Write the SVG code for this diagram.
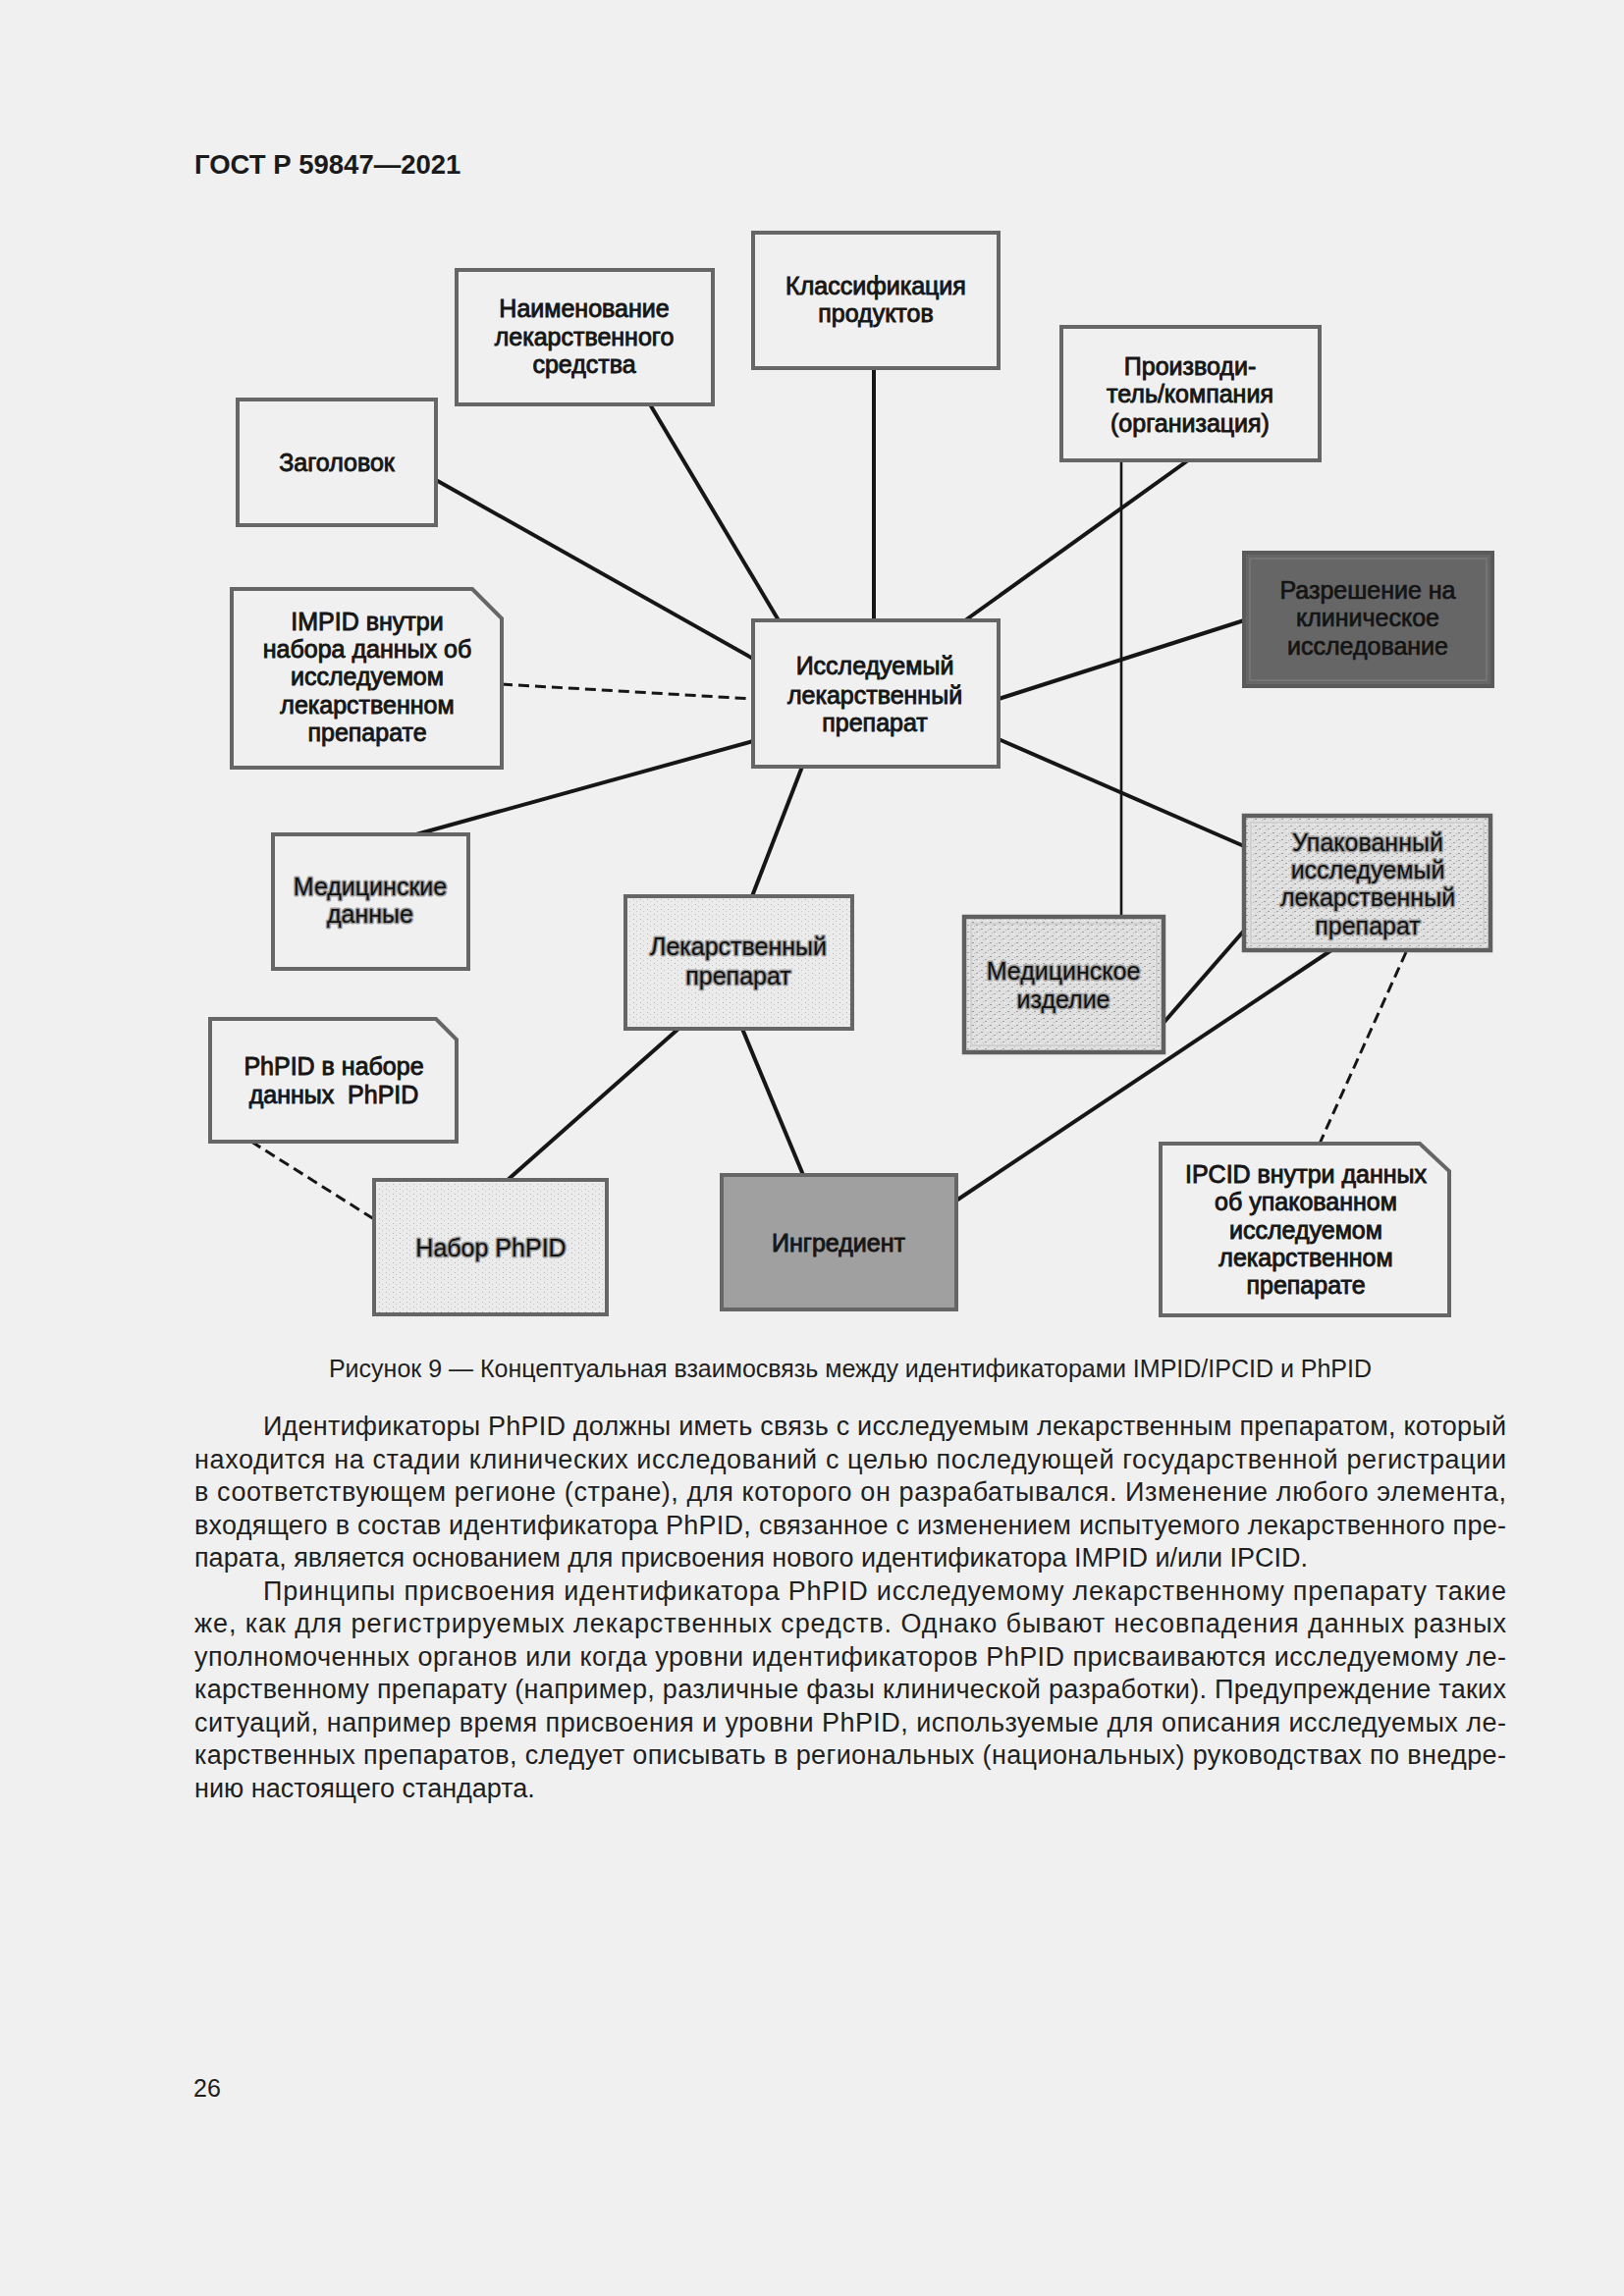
<svg xmlns="http://www.w3.org/2000/svg" width="1654" height="2339" viewBox="0 0 1654 2339">
<style>
  .bg { fill: #f0f0f0; }
  .box { fill: none; stroke: #666666; stroke-width: 4; }
  .t { font-family: "Liberation Sans", Arial, sans-serif; font-size: 25px; fill: #161616; stroke: #161616; stroke-width: 0.9; text-anchor: middle; }
  .halo { font-family: "Liberation Sans", Arial, sans-serif; font-size: 25px; fill: #111111; stroke: #9a9a9a; stroke-width: 3; paint-order: stroke; stroke-linejoin: round; text-anchor: middle; }
  .halo2 { font-family: "Liberation Sans", Arial, sans-serif; font-size: 25px; fill: #141414; stroke: #141414; stroke-width: 0.7; text-anchor: middle; }
  .conn { stroke: #161616; stroke-width: 4; fill: none; }
  .thin { stroke: #161616; stroke-width: 2.6; fill: none; }
  .dash { stroke: #161616; stroke-width: 3; fill: none; stroke-dasharray: 11 6; }
  .hdr { font-family: "Liberation Sans", Arial, sans-serif; font-size: 27.5px; font-weight: bold; fill: #1a1a1a; }
  .cap { font-family: "Liberation Sans", Arial, sans-serif; font-size: 25px; fill: #1f1f1f; text-anchor: middle; }
  .body { font-family: "Liberation Sans", Arial, sans-serif; font-size: 27px; fill: #1f1f1f; }
</style>
<defs>
  <pattern id="lightTex" width="7" height="5" patternUnits="userSpaceOnUse">
    <rect width="7" height="5" fill="#ebebeb"/>
    <rect x="1" y="1" width="1" height="1" fill="#b4b4b4"/>
    <rect x="4" y="3" width="1" height="1" fill="#c4c4c4"/>
  </pattern>
  <pattern id="heavyTex" width="9" height="7" patternUnits="userSpaceOnUse">
    <rect width="9" height="7" fill="#e0e0e0"/>
    <rect x="0" y="1" width="2" height="1" fill="#999999"/>
    <rect x="4" y="4" width="2" height="1" fill="#a3a3a3"/>
    <rect x="7" y="2" width="1" height="1" fill="#b3b3b3"/>
    <rect x="2" y="5" width="1" height="1" fill="#bcbcbc"/>
    <rect x="6" y="6" width="1" height="1" fill="#f8f8f8"/>
  </pattern>
</defs>
<rect class="bg" x="0" y="0" width="1654" height="2339"/>

<text class="hdr" x="198" y="177">ГОСТ Р 59847—2021</text>

<g id="connectors">
  <line class="conn" x1="444" y1="489" x2="767" y2="671"/>
  <line class="conn" x1="662" y1="412" x2="793" y2="632"/>
  <line class="conn" x1="890" y1="375" x2="890" y2="632"/>
  <line class="conn" x1="1210" y1="469" x2="983" y2="632"/>
  <line class="conn" x1="1017" y1="712" x2="1267" y2="632"/>
  <line class="conn" x1="1017" y1="753" x2="1267" y2="862"/>
  <line class="conn" x1="767" y1="755" x2="424" y2="850"/>
  <line class="conn" x1="817" y1="781" x2="766" y2="913"/>
  <line class="thin" x1="1142" y1="469" x2="1142" y2="934"/>
  <line class="conn" x1="1267" y1="948" x2="1185" y2="1042"/>
  <line class="conn" x1="1356" y1="968" x2="974" y2="1223"/>
  <line class="conn" x1="691" y1="1048" x2="517" y2="1202"/>
  <line class="conn" x1="756" y1="1048" x2="818" y2="1197"/>
  <line class="dash" x1="511" y1="697" x2="767" y2="712"/>
  <line class="dash" x1="256" y1="1163" x2="381" y2="1242"/>
  <line class="dash" x1="1432" y1="970" x2="1344" y2="1165"/>
</g>

<g id="n-zagolovok">
  <rect class="box" x="242" y="407" width="202" height="128"/>
  <text class="t" x="343" y="480">Заголовок</text>
</g>

<g id="n-naimenovanie">
  <rect class="box" x="465" y="275" width="261" height="137"/>
  <text class="t" x="595" y="323">Наименование</text>
  <text class="t" x="595" y="352">лекарственного</text>
  <text class="t" x="595" y="380">средства</text>
</g>

<g id="n-klassifikacia">
  <rect class="box" x="767" y="237" width="250" height="138"/>
  <text class="t" x="892" y="300">Классификация</text>
  <text class="t" x="892" y="328">продуктов</text>
</g>

<g id="n-proizvoditel">
  <rect class="box" x="1081" y="333" width="263" height="136"/>
  <text class="t" x="1212" y="382">Производи-</text>
  <text class="t" x="1212" y="410">тель/компания</text>
  <text class="t" x="1212" y="440">(организация)</text>
</g>

<g id="n-impid-note">
  <path class="box" d="M236,600 H481 L511,630 V782 H236 Z"/>
  <text class="t" x="374" y="642">IMPID внутри</text>
  <text class="t" x="374" y="670">набора данных об</text>
  <text class="t" x="374" y="698">исследуемом</text>
  <text class="t" x="374" y="727">лекарственном</text>
  <text class="t" x="374" y="755">препарате</text>
</g>

<g id="n-central">
  <rect class="box" x="767" y="632" width="250" height="149"/>
  <text class="t" x="891" y="687">Исследуемый</text>
  <text class="t" x="891" y="717">лекарственный</text>
  <text class="t" x="891" y="745">препарат</text>
</g>

<g id="n-razreshenie">
  <rect x="1267" y="563" width="253" height="136" fill="#666666" stroke="#5a5a5a" stroke-width="4"/>
  <rect x="1273" y="569" width="241" height="124" fill="none" stroke="#7a7a7a" stroke-width="1.5"/>
  <text class="halo2" x="1393" y="610">Разрешение на</text>
  <text class="halo2" x="1393" y="638">клиническое</text>
  <text class="halo2" x="1393" y="667">исследование</text>
</g>

<g id="n-med-dannye">
  <rect class="box" x="278" y="850" width="199" height="137"/>
  <text class="halo" x="377" y="912">Медицинские</text>
  <text class="halo" x="377" y="940">данные</text>
</g>

<g id="n-lek-preparat">
  <rect x="637" y="913" width="231" height="135" fill="url(#lightTex)" stroke="#666666" stroke-width="4"/>
  <text class="halo" x="752" y="973">Лекарственный</text>
  <text class="halo" x="752" y="1003">препарат</text>
</g>

<g id="n-med-izdelie">
  <rect x="982" y="934" width="203" height="138" fill="url(#heavyTex)" stroke="#5f5f5f" stroke-width="4.5"/>
  <rect x="989" y="941" width="189" height="124" fill="none" stroke="#d0d0d0" stroke-width="2"/>
  <text class="halo" x="1083" y="998">Медицинское</text>
  <text class="halo" x="1083" y="1027">изделие</text>
</g>

<g id="n-upakovanny">
  <rect x="1267" y="831" width="251" height="137" fill="url(#heavyTex)" stroke="#5f5f5f" stroke-width="4.5"/>
  <rect x="1274" y="838" width="237" height="123" fill="none" stroke="#d0d0d0" stroke-width="2"/>
  <text class="halo" x="1393" y="867">Упакованный</text>
  <text class="halo" x="1393" y="895">исследуемый</text>
  <text class="halo" x="1393" y="923">лекарственный</text>
  <text class="halo" x="1393" y="952">препарат</text>
</g>

<g id="n-phpid-note">
  <path class="box" d="M214,1038 H444 L465,1059 V1163 H214 Z"/>
  <text class="t" x="340" y="1095">PhPID в наборе</text>
  <text class="t" x="340" y="1124" xml:space="preserve">данных  PhPID</text>
</g>

<g id="n-nabor-phpid">
  <rect x="381" y="1202" width="237" height="137" fill="url(#lightTex)" stroke="#666666" stroke-width="4"/>
  <text class="halo" x="500" y="1280">Набор PhPID</text>
</g>

<g id="n-ingredient">
  <rect x="735" y="1197" width="239" height="137" fill="#a0a0a0" stroke="#666666" stroke-width="4"/>
  <text class="t" x="854" y="1275">Ингредиент</text>
</g>

<g id="n-ipcid-note">
  <path class="box" d="M1182,1165 H1446 L1476,1193 V1340 H1182 Z"/>
  <text class="t" x="1330" y="1205">IPCID внутри данных</text>
  <text class="t" x="1330" y="1233">об упакованном</text>
  <text class="t" x="1330" y="1262">исследуемом</text>
  <text class="t" x="1330" y="1290">лекарственном</text>
  <text class="t" x="1330" y="1318">препарате</text>
</g>

<text class="cap" x="866" y="1403">Рисунок 9 — Концептуальная взаимосвязь между идентификаторами IMPID/IPCID и PhPID</text>

<g id="body-text">
  <text class="body" x="268" y="1462" textLength="1266" lengthAdjust="spacing">Идентификаторы PhPID должны иметь связь с исследуемым лекарственным препаратом, который</text>
  <text class="body" x="198" y="1495.5" textLength="1336" lengthAdjust="spacing">находится на стадии клинических исследований с целью последующей государственной регистрации</text>
  <text class="body" x="198" y="1529" textLength="1336" lengthAdjust="spacing">в соответствующем регионе (стране), для которого он разрабатывался. Изменение любого элемента,</text>
  <text class="body" x="198" y="1562.5" textLength="1336" lengthAdjust="spacing">входящего в состав идентификатора PhPID, связанное с изменением испытуемого лекарственного пре-</text>
  <text class="body" x="198" y="1596">парата, является основанием для присвоения нового идентификатора IMPID и/или IPCID.</text>
  <text class="body" x="268" y="1629.5" textLength="1266" lengthAdjust="spacing">Принципы присвоения идентификатора PhPID исследуемому лекарственному препарату такие</text>
  <text class="body" x="198" y="1663" textLength="1336" lengthAdjust="spacing">же, как для регистрируемых лекарственных средств. Однако бывают несовпадения данных разных</text>
  <text class="body" x="198" y="1696.5" textLength="1336" lengthAdjust="spacing">уполномоченных органов или когда уровни идентификаторов PhPID присваиваются исследуемому ле-</text>
  <text class="body" x="198" y="1730" textLength="1336" lengthAdjust="spacing">карственному препарату (например, различные фазы клинической разработки). Предупреждение таких</text>
  <text class="body" x="198" y="1763.5" textLength="1336" lengthAdjust="spacing">ситуаций, например время присвоения и уровни PhPID, используемые для описания исследуемых ле-</text>
  <text class="body" x="198" y="1797" textLength="1336" lengthAdjust="spacing">карственных препаратов, следует описывать в региональных (национальных) руководствах по внедре-</text>
  <text class="body" x="198" y="1830.5">нию настоящего стандарта.</text>
</g>

<text class="body" x="197" y="2136" style="font-size:25px">26</text>
</svg>
